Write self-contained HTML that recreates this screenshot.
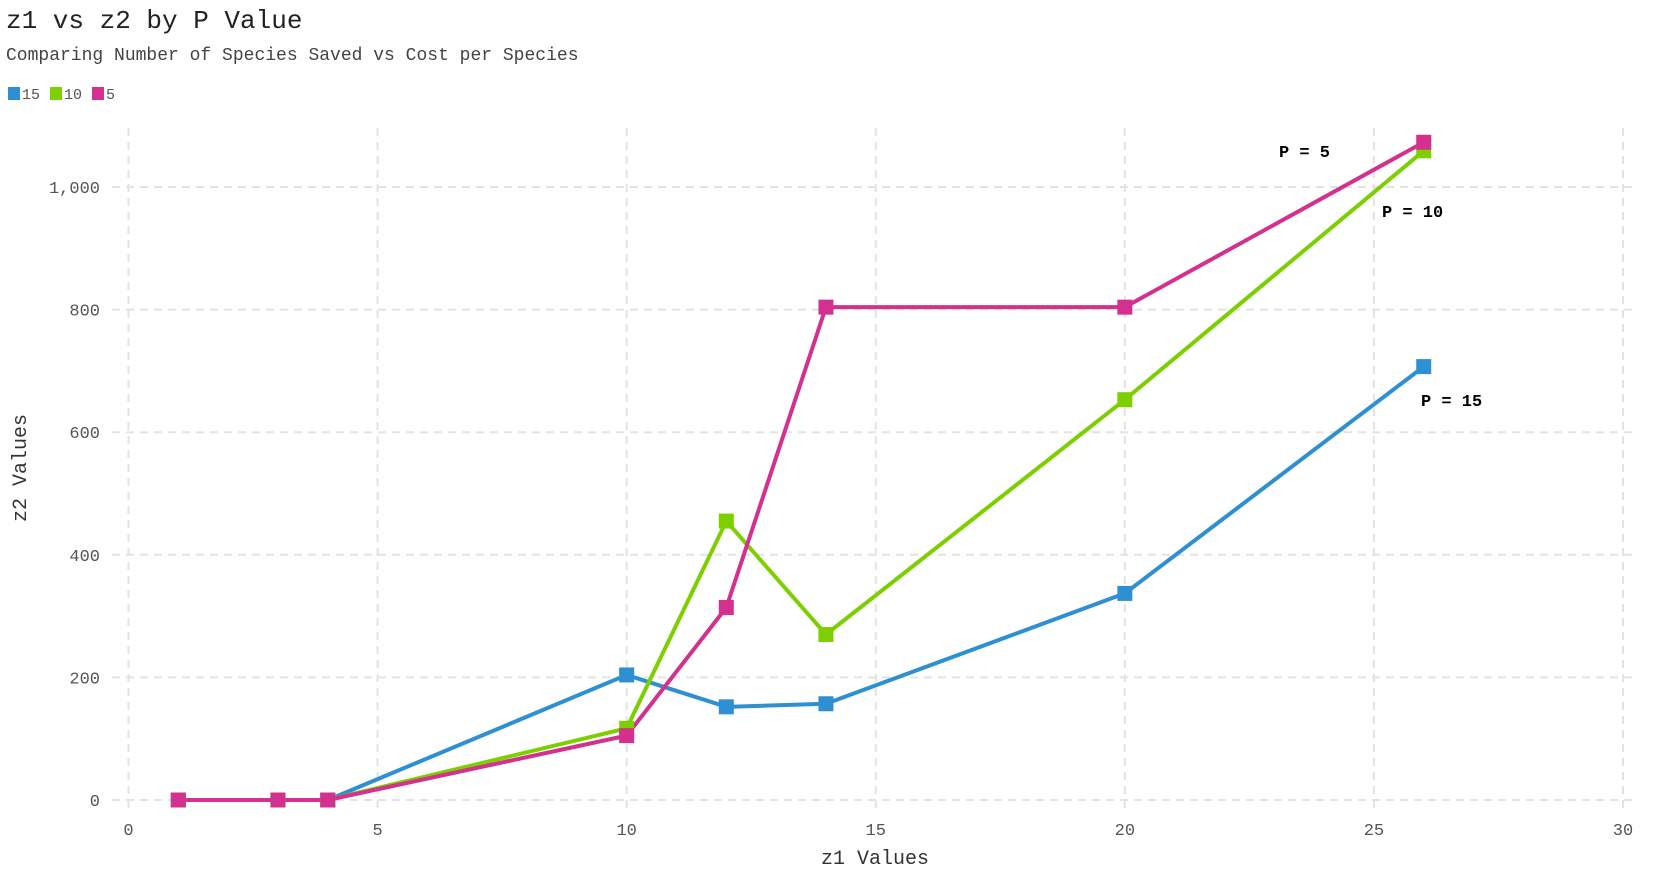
<!DOCTYPE html>
<html><head><meta charset="utf-8"><style>
body{margin:0;background:#fff;}
svg{display:block;font-family:"Liberation Mono",monospace;}
</style></head><body>
<svg id="chart" width="1678" height="871" viewBox="0 0 1678 871">
<text x="6" y="28" font-size="26" fill="#222">z1 vs z2 by P Value</text>
<text x="6" y="60" font-size="18" fill="#444">Comparing Number of Species Saved vs Cost per Species</text>
<g id="legend"></g>
<g id="grid"></g><g id="series"></g>
<text x="875" y="864" font-size="20" fill="#333" text-anchor="middle">z1 Values</text>
<text transform="translate(26,468) rotate(-90)" font-size="20" fill="#333" text-anchor="middle">z2 Values</text>
<text x="1279" y="157" font-size="17" font-weight="bold">P = 5</text>
<text x="1382" y="217" font-size="17" font-weight="bold">P = 10</text>
<text x="1421" y="406" font-size="17" font-weight="bold">P = 15</text>
</svg>
<script>
const xVals=[1,3,4,10,12,14,20,26];
const seriesNames=["15","10","5"];
const s15=[0,0,0,204,152,157,337,707];
const s10=[0,0,0,117,455,270,653,1059];
const s5=[0,0,0,105,314,804,804,1073];
const xTicks=[0,5,10,15,20,25,30];
const yTicks=[0,200,400,600,800,1000];
const yTickLabels=["0","200","400","600","800","1,000"];
const colors=["#2e8fd3","#7dcf00","#d3308f"];
const allSeries=[s15,s10,s5];
const NS="http://www.w3.org/2000/svg";
const xs=v=>128.5+v*(1623-128.5)/30;
const ys=v=>800-v*(800-187)/1000;
function mk(tag,attrs,parent){const e=document.createElementNS(NS,tag);for(const k in attrs)e.setAttribute(k,attrs[k]);parent.appendChild(e);return e;}
const grid=document.getElementById('grid');
xTicks.forEach(t=>{
 const l=mk('line',{x1:xs(t),x2:xs(t),y1:128,y2:808,stroke:'#e3e3e3','stroke-width':2,'stroke-dasharray':'8,6'},grid);
 
 
 const tx=mk('text',{x:xs(t),y:835,'font-size':17,fill:'#555','text-anchor':'middle'},grid);
 tx.textContent=t;
 
 
});
yTicks.forEach((t,i)=>{
 const l=mk('line',{x1:112,x2:1632,y1:ys(t),y2:ys(t),stroke:'#e3e3e3','stroke-width':2,'stroke-dasharray':'8,6'},grid);
 
 
 const tx=mk('text',{x:100,y:ys(t)+6,'font-size':17,fill:'#555','text-anchor':'end'},grid);
 tx.textContent=yTickLabels[i];
 
 
});
const sg=document.getElementById('series');
const order=[0,1,2];
order.forEach(si=>{
 const d=allSeries[si];
 const pl=mk('polyline',{points:xVals.map((x,i)=>xs(x)+','+ys(d[i])).join(' '),fill:'none',stroke:colors[si],'stroke-width':4,'stroke-linejoin':'round'},sg);
 
 
});
order.forEach(si=>{
 const d=allSeries[si];
 xVals.forEach((x,i)=>{
  const r=mk('rect',{x:xs(x)-7.5,y:ys(d[i])-7.5,width:15,height:15,fill:colors[si]},sg);
  
  
 });
});
const lg=document.getElementById('legend');
let lx=8;
seriesNames.forEach((n,i)=>{
 const r=mk('rect',{x:lx,y:87,width:12,height:13,fill:colors[i]},lg);
 
 
 const t=mk('text',{x:lx+14,y:99,'font-size':15,fill:'#555'},lg);
 t.textContent=n;
 
 
 lx+=14+n.length*9+10;
});
</script>
</body></html>
